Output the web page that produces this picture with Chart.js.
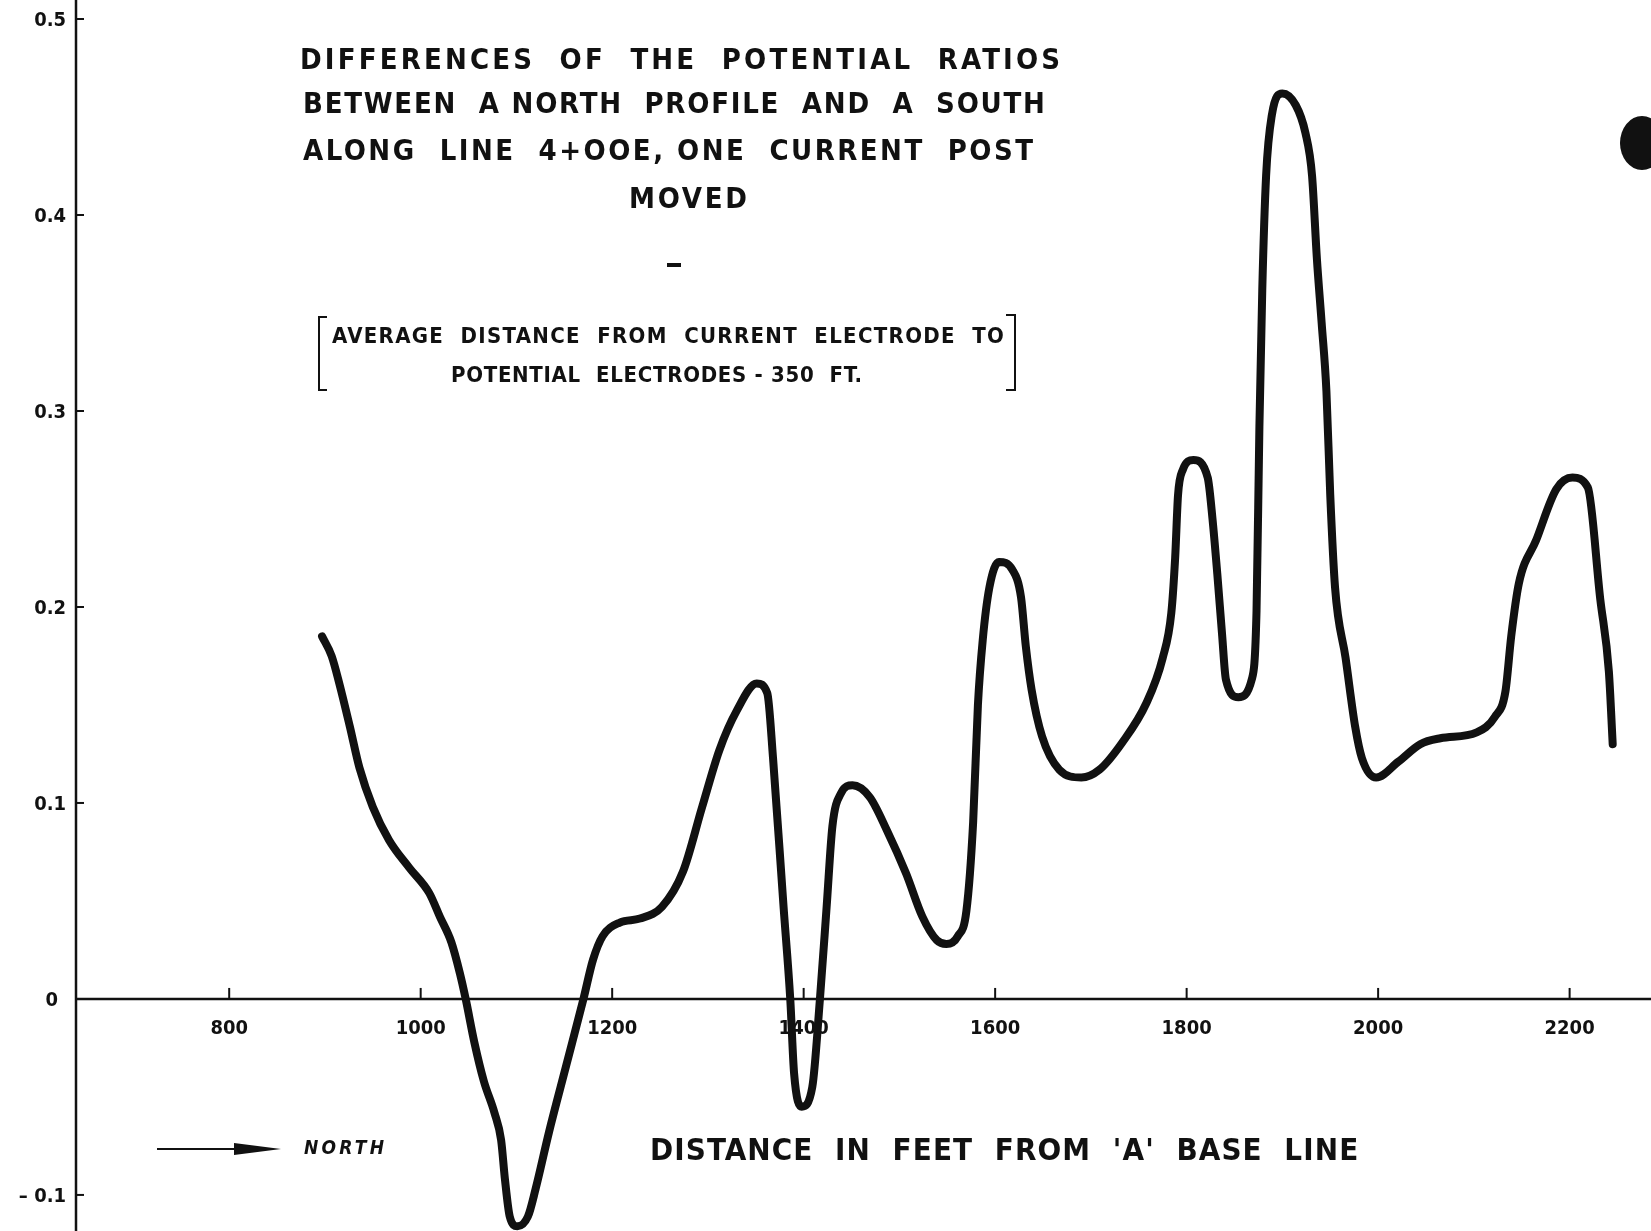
<!DOCTYPE html>
<html>
<head>
<meta charset="utf-8">
<script src="https://cdn.jsdelivr.net/npm/chart.js@4.4.1/dist/chart.umd.min.js"></script>
<style>
  html, body { margin: 0; padding: 0; background: #fff; }
  #wrap { width: 1651px; height: 1231px; }
</style>
</head>
<body>
<div id="wrap"><canvas id="chart" width="1651" height="1231"></canvas></div>
<script>
// distance in feet from 'A' base line
const distanceFt = [
  897, 907, 915, 926, 936, 950, 967, 988, 1009, 1020, 1032, 1041, 1047,
  1056, 1066, 1077, 1084, 1088, 1093, 1101, 1112, 1120, 1134, 1152, 1170,
  1180, 1190, 1208, 1229, 1252, 1274, 1294, 1312, 1330, 1351, 1362, 1368,
  1379, 1386, 1390, 1398, 1409, 1417, 1424, 1430, 1439, 1451, 1469, 1487,
  1507, 1524, 1539, 1549, 1561, 1570, 1577, 1582, 1587, 1594, 1604, 1618,
  1627, 1632, 1638, 1649, 1667, 1690, 1709, 1733, 1758, 1775, 1784, 1788,
  1791, 1796, 1807, 1822, 1827, 1832, 1837, 1841, 1854, 1868, 1873, 1876,
  1879, 1883, 1889, 1900, 1914, 1924, 1931, 1936, 1941, 1946, 1950, 1955,
  1966, 1976, 1983, 1998, 2021, 2044, 2065, 2103, 2122, 2133, 2139, 2147,
  2165, 2186, 2203, 2219, 2232, 2241, 2245
];
// difference of the potential ratios (north - south)
const ratioDiff = [
  0.185, 0.175, 0.161, 0.139, 0.118, 0.098, 0.081, 0.067, 0.054, 0.042, 0.029, 0.013, 0.000,
  -0.022, -0.042, -0.058, -0.072, -0.092, -0.111, -0.116, -0.111, -0.097, -0.068, -0.034, 0.000,
  0.020, 0.032, 0.039, 0.041, 0.047, 0.065, 0.098, 0.127, 0.147, 0.161, 0.156, 0.123,
  0.047, 0.000, -0.038, -0.055, -0.045, 0.000, 0.047, 0.088, 0.105, 0.109, 0.103, 0.086,
  0.064, 0.042, 0.030, 0.028, 0.032, 0.045, 0.090, 0.150, 0.183, 0.210, 0.223, 0.219,
  0.205, 0.180, 0.158, 0.134, 0.117, 0.113, 0.117, 0.131, 0.151, 0.174, 0.197, 0.225,
  0.257, 0.270, 0.275, 0.266, 0.245, 0.217, 0.186, 0.163, 0.154, 0.163, 0.198, 0.292,
  0.362, 0.420, 0.451, 0.462, 0.456, 0.442, 0.420, 0.378, 0.345, 0.310, 0.257, 0.210,
  0.174, 0.139, 0.123, 0.113, 0.121, 0.130, 0.133, 0.136, 0.144, 0.157, 0.185, 0.212,
  0.234, 0.260, 0.266, 0.261, 0.204, 0.167, 0.130
];

const xTicks = [800, 1000, 1200, 1400, 1600, 1800, 2000, 2200];
const yTicks = [0.5, 0.4, 0.3, 0.2, 0.1, 0, -0.1];
const yTickLabels = ['0.5', '0.4', '0.3', '0.2', '0.1', '0', '\u2013 0.1'];

const titleLines = [
  'DIFFERENCES  OF  THE  POTENTIAL  RATIOS',
  'BETWEEN  A NORTH  PROFILE  AND  A  SOUTH',
  'ALONG  LINE  4+OOE, ONE  CURRENT  POST',
  'MOVED'
];
const noteLines = [
  'AVERAGE  DISTANCE  FROM  CURRENT  ELECTRODE  TO',
  'POTENTIAL  ELECTRODES - 350  FT.'
];
const xAxisTitle = "DISTANCE  IN  FEET  FROM  'A'  BASE  LINE";
const arrowLabel = 'NORTH';

const INK = '#111';
const LETTER = "'DejaVu Sans Condensed', 'DejaVu Sans', sans-serif";

// draw text stretched between two x positions using letter spacing
function fitText(ctx, text, x1, x2, y, font) {
  ctx.font = font;
  ctx.letterSpacing = '0px';
  const w = ctx.measureText(text).width;
  const sp = text.length > 1 ? (x2 - x1 - w) / (text.length - 1) : 0;
  ctx.letterSpacing = sp.toFixed(2) + 'px';
  ctx.textAlign = 'left';
  ctx.textBaseline = 'middle';
  ctx.fillText(text, x1, y);
  ctx.letterSpacing = '0px';
}

const paperPlugin = {
  id: 'paper',
  beforeDatasetsDraw(chart) {
    const ctx = chart.ctx;
    const xs = chart.scales.x, ys = chart.scales.y;
    const left = chart.chartArea.left;
    const zeroY = ys.getPixelForValue(0);
    ctx.save();
    ctx.fillStyle = INK;
    ctx.strokeStyle = INK;

    // axes
    ctx.lineWidth = 2.5;
    ctx.beginPath();
    ctx.moveTo(left, 0);
    ctx.lineTo(left, chart.height);
    ctx.moveTo(left, zeroY);
    ctx.lineTo(chart.width, zeroY);
    ctx.stroke();

    // y ticks
    ctx.lineWidth = 2;
    ctx.font = 'bold 20px ' + LETTER;
    ctx.textAlign = 'right';
    ctx.textBaseline = 'middle';
    yTicks.forEach((v, i) => {
      const py = ys.getPixelForValue(v);
      if (v !== 0) {
        ctx.beginPath();
        ctx.moveTo(left, py);
        ctx.lineTo(left + 8, py);
        ctx.stroke();
      }
      ctx.fillText(yTickLabels[i], v === 0 ? 58 : 66, py + 2);
    });

    // x ticks
    ctx.textAlign = 'center';
    xTicks.forEach(v => {
      const px = xs.getPixelForValue(v);
      ctx.beginPath();
      ctx.moveTo(px, zeroY);
      ctx.lineTo(px, zeroY - 11);
      ctx.stroke();
      ctx.fillText(String(v), px, zeroY + 30);
    });

    // title block
    const tFont = 'bold 29px ' + LETTER;
    fitText(ctx, titleLines[0], 300, 1060, 61, tFont);
    fitText(ctx, titleLines[1], 303, 1045, 105, tFont);
    fitText(ctx, titleLines[2], 303, 1033, 152, tFont);
    fitText(ctx, titleLines[3], 629, 747, 200, tFont);
    ctx.fillRect(667, 263, 14, 4);

    // bracketed note
    const nFont = 'bold 22px ' + LETTER;
    fitText(ctx, noteLines[0], 332, 1004, 337, nFont);
    fitText(ctx, noteLines[1], 451, 862, 376, nFont);
    ctx.lineWidth = 2;
    ctx.beginPath();
    ctx.moveTo(327, 317); ctx.lineTo(319, 317); ctx.lineTo(319, 390); ctx.lineTo(327, 390);
    ctx.moveTo(1006, 315); ctx.lineTo(1015, 315); ctx.lineTo(1015, 390); ctx.lineTo(1006, 390);
    ctx.stroke();

    // x axis title
    fitText(ctx, xAxisTitle, 650, 1358, 1152, 'bold 31px ' + LETTER);

    // north arrow
    ctx.lineWidth = 2;
    ctx.beginPath();
    ctx.moveTo(157, 1149);
    ctx.lineTo(240, 1149);
    ctx.stroke();
    ctx.beginPath();
    ctx.moveTo(234, 1143);
    ctx.lineTo(281, 1149);
    ctx.lineTo(234, 1155);
    ctx.closePath();
    ctx.fill();
    fitText(ctx, arrowLabel, 304, 384, 1149, 'italic bold 19px ' + LETTER);

    // punch hole blot on the right edge
    ctx.beginPath();
    ctx.ellipse(1642, 143, 22, 27, 0, 0, Math.PI * 2);
    ctx.fill();
    ctx.restore();
  }
};

new Chart(document.getElementById('chart'), {
  type: 'line',
  data: {
    datasets: [{
      data: distanceFt.map((x, i) => ({ x: x, y: ratioDiff[i] })),
      borderColor: INK,
      borderWidth: 8,
      pointRadius: 0,
      fill: false,
      cubicInterpolationMode: 'monotone',
      borderCapStyle: 'round',
      borderJoinStyle: 'round'
    }]
  },
  options: {
    responsive: false,
    animation: false,
    layout: { padding: { left: 76, top: 0, right: 0, bottom: 0 } },
    plugins: { legend: { display: false }, tooltip: { enabled: false } },
    scales: {
      x: { type: 'linear', min: 640, max: 2285, display: false },
      y: { type: 'linear', min: -0.1184, max: 0.5097, display: false }
    }
  },
  plugins: [paperPlugin]
});
</script>
</body>
</html>
